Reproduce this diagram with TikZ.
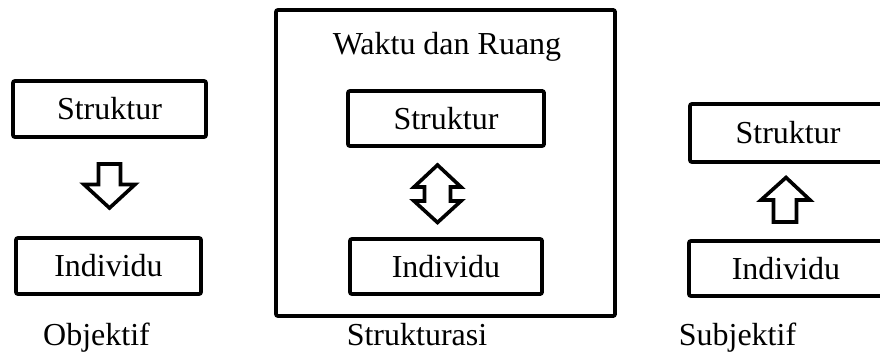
\documentclass[tikz,border=0pt]{standalone}
\usepackage{fontspec}
\setmainfont{Liberation Serif}
\begin{document}
\begin{tikzpicture}[x=1pt,y=-1pt,
  box/.style={draw=black,line width=3.8pt,rounded corners=2pt,inner sep=0pt,
    font=\fontsize{32}{38}\selectfont},
  lbl/.style={inner sep=0pt,anchor=base,font=\fontsize{32}{38}\selectfont},
  blockarrow/.style={draw=black,fill=white,line width=3.6pt,line join=miter}]
\clip (0,0) rectangle (880,358);
\fill[white] (0,0) rectangle (880,358);
% left column
\node[box,minimum width=193pt,minimum height=56pt] (lS) at (109.5,109) {Struktur};
\node[box,minimum width=185pt,minimum height=56pt] (lI) at (108.5,266) {Individu};
\draw[blockarrow] (98.5,164) -- (120.5,164) -- (120.5,184.5) -- (135,184.5)
  -- (109.5,208) -- (84,184.5) -- (98.5,184.5) -- cycle;
\node[lbl] (lobj) at (96.5,345) {Objektif};
% centre column
\node[box,minimum width=339pt,minimum height=306pt] (big) at (445.5,163) {};
\node[lbl] (waktu) at (447,55) {Waktu dan Ruang};
\node[box,minimum width=196pt,minimum height=55pt] (cS) at (446,118.5) {Struktur};
\node[box,minimum width=192pt,minimum height=55pt] (cI) at (446,266.5) {Individu};
\draw[blockarrow] (437.5,165) -- (461,187) -- (450.5,187) -- (450.5,201)
  -- (461,201) -- (437.5,222.5) -- (414,201) -- (424.5,201) -- (424.5,187)
  -- (414,187) -- cycle;
\node[lbl] (lstr) at (417,345) {Strukturasi};
% right column
\node[box,minimum width=196pt,minimum height=58pt] (rS) at (788,133) {Struktur};
\node[box,minimum width=194pt,minimum height=55pt] (rI) at (786,268.5) {Individu};
\draw[blockarrow] (786,177.5) -- (810,200) -- (796.5,200) -- (796.5,222)
  -- (773.5,222) -- (773.5,200) -- (761,200) -- cycle;
\node[lbl] (lsub) at (737.5,345) {Subjektif};
\end{tikzpicture}
\end{document}
